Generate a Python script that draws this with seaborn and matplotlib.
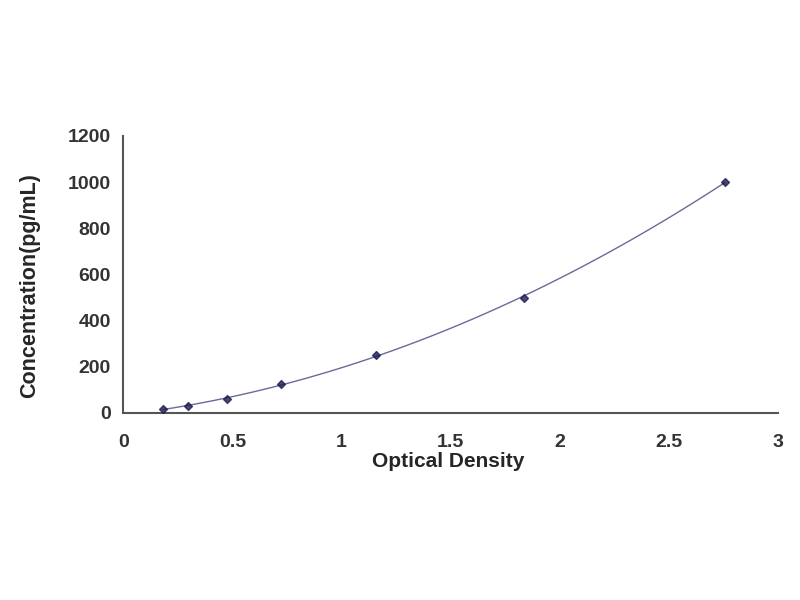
import numpy as np
import pandas as pd
import seaborn as sns
import matplotlib.pyplot as plt

# standard curve values
optical_density = [0.184, 0.298, 0.473, 0.722, 1.157, 1.833, 2.755]
concentration = [15.6, 31.25, 62.5, 125, 250, 500, 1000]

x_ticks = [0, 0.5, 1, 1.5, 2, 2.5, 3]
x_tick_labels = ["0", "0.5", "1", "1.5", "2", "2.5", "3"]
y_ticks = [0, 200, 400, 600, 800, 1000, 1200]

df = pd.DataFrame({"od": optical_density, "conc": concentration})

sns.set_style("white")
plt.rcParams["font.family"] = ["Liberation Sans", "DejaVu Sans"]

fig = plt.figure(figsize=(8, 6), dpi=100)
ax = fig.add_axes([0.154, 0.3117, 0.819, 0.4617])

sns.regplot(x="od", y="conc", data=df, order=2, ci=None, ax=ax,
            marker="D",
            scatter_kws={"s": 16, "color": "#1c1c50", "zorder": 3},
            line_kws={"color": "#6a6a9a", "lw": 1.0})

ax.set_xlim(0, 3)
ax.set_ylim(0, 1200)
ax.set_xticks(x_ticks)
ax.set_xticklabels(x_tick_labels)
ax.set_yticks(y_ticks)

ax.set_xlabel("Optical Density", fontsize=15, fontweight="bold")
ax.set_ylabel("Concentration(pg/mL)", fontsize=15.5, fontweight="bold")
ax.xaxis.set_label_coords(0.496, -0.142)
ax.yaxis.set_label_coords(-0.127, 0.46)

for lab in ax.get_xticklabels() + ax.get_yticklabels():
    lab.set_fontweight("bold")
ax.tick_params(axis="both", direction="in", length=3, width=1, colors="#555555",
               labelcolor="#333333", labelsize=14)
ax.tick_params(axis="x", pad=15)
ax.tick_params(axis="y", pad=9)

sns.despine(ax=ax)
for s in ["left", "bottom"]:
    ax.spines[s].set_color("#555555")
    ax.spines[s].set_linewidth(1.5)

plt.savefig("out.png")
